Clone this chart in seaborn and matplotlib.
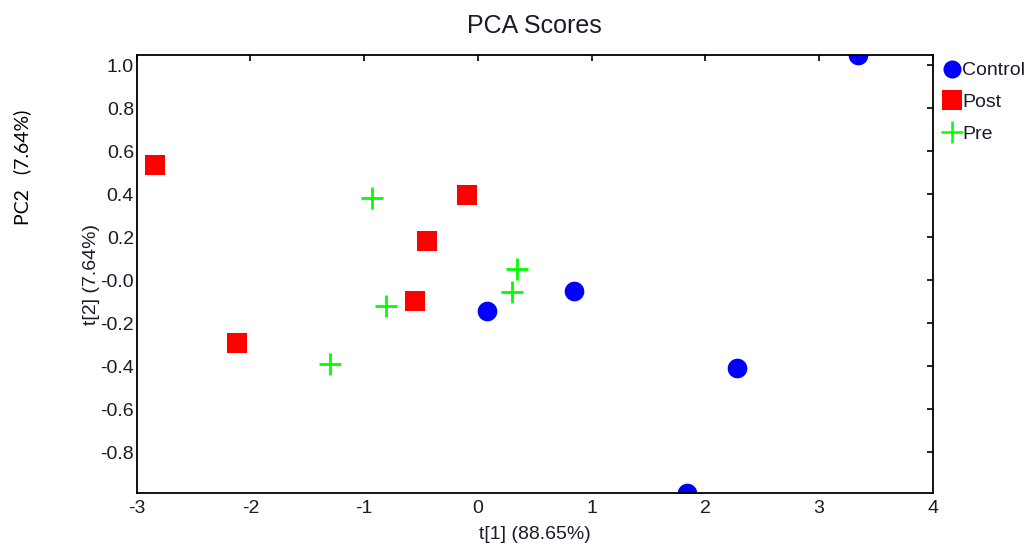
import matplotlib
matplotlib.use("Agg")
import matplotlib.pyplot as plt
from matplotlib.lines import Line2D
import seaborn as sns
import pandas as pd

# PCA score coordinates per group
groups = ["Control", "Post", "Pre"]
control_t1 = [3.34, 0.08, 0.85, 2.28, 1.84]
control_t2 = [1.045, -0.144, -0.051, -0.408, -0.989]
post_t1 = [-2.84, -2.12, -0.095, -0.447, -0.552]
post_t2 = [0.535, -0.294, 0.395, 0.181, -0.098]
pre_t1 = [-0.93, 0.345, 0.30, -0.807, -1.30]
pre_t2 = [0.381, 0.051, -0.056, -0.121, -0.392]

x_ticks = [-3, -2, -1, 0, 1, 2, 3, 4]
y_ticks = [-0.8, -0.6, -0.4, -0.2, 0.0, 0.2, 0.4, 0.6, 0.8, 1.0]
y_tick_labels = ["-0.8", "-0.6", "-0.4", "-0.2", "-0.0", "0.2", "0.4", "0.6", "0.8", "1.0"]

colors = {"Control": "#0000ff", "Post": "#ff0000", "Pre": "#00ff00"}
markers = {"Control": "o", "Post": "s", "Pre": "+"}

df = pd.DataFrame({
    "t1": control_t1 + post_t1 + pre_t1,
    "t2": control_t2 + post_t2 + pre_t2,
    "group": ["Control"] * len(control_t1) + ["Post"] * len(post_t1) + ["Pre"] * len(pre_t1),
})

sns.set_style("white")
plt.rcParams["font.family"] = ["Liberation Sans", "DejaVu Sans"]
text_color = "#1a1a2a"

fig = plt.figure(figsize=(10.3, 5.5), dpi=100)
ax = fig.add_axes([0.1327, 0.103, 0.7728, 0.797])

for g in groups:
    sub = df[df["group"] == g]
    if markers[g] == "+":
        sns.scatterplot(data=sub, x="t1", y="t2", marker="+", s=260,
                        color=colors[g], linewidth=2.0, ax=ax, legend=False)
    else:
        sns.scatterplot(data=sub, x="t1", y="t2", marker=markers[g], s=200,
                        color=colors[g], linewidth=0, ax=ax, legend=False)

ax.set_xlim(-3, 4)
ax.set_ylim(-0.992, 1.047)
ax.set_xticks(x_ticks)
ax.set_xticklabels([str(t) for t in x_ticks])
ax.set_yticks(y_ticks)
ax.set_yticklabels(y_tick_labels)

for sp in ax.spines.values():
    sp.set_visible(True)
    sp.set_color("black")
    sp.set_linewidth(1.3)

ax.tick_params(direction="in", length=4, width=1.2, colors="black",
               top=True, right=True, labeltop=False, labelright=False,
               labelsize=14, labelcolor=text_color)
ax.tick_params(axis="y", pad=2)
ax.tick_params(axis="x", pad=5)

ax.set_xlabel("t[1] (88.65%)", fontsize=14, color=text_color, labelpad=6)
ax.set_ylabel("t[2] (7.64%)", fontsize=14, color=text_color, labelpad=0)
ax.set_title("PCA Scores", fontsize=18, color=text_color, pad=16)

fig.text(0.022, 0.695, "PC2   (7.64%)", rotation=90, ha="center", va="center",
         fontsize=14, family=["Lato", "DejaVu Sans"], color="black")

handles = [
    Line2D([], [], ls="", marker="o", color=colors["Control"], markersize=13, markeredgewidth=0),
    Line2D([], [], ls="", marker="s", color=colors["Post"], markersize=14, markeredgewidth=0),
    Line2D([], [], ls="", marker="+", color=colors["Pre"], markersize=16, markeredgewidth=1.8),
]
ax.legend(handles, groups, loc="upper left", bbox_to_anchor=(1.003, 1.0),
          frameon=False, fontsize=14, handlelength=1.0, handletextpad=0.05,
          labelspacing=0.72, borderaxespad=0.1, borderpad=0.25,
          labelcolor=text_color)

fig.savefig("out.png", dpi=100)
